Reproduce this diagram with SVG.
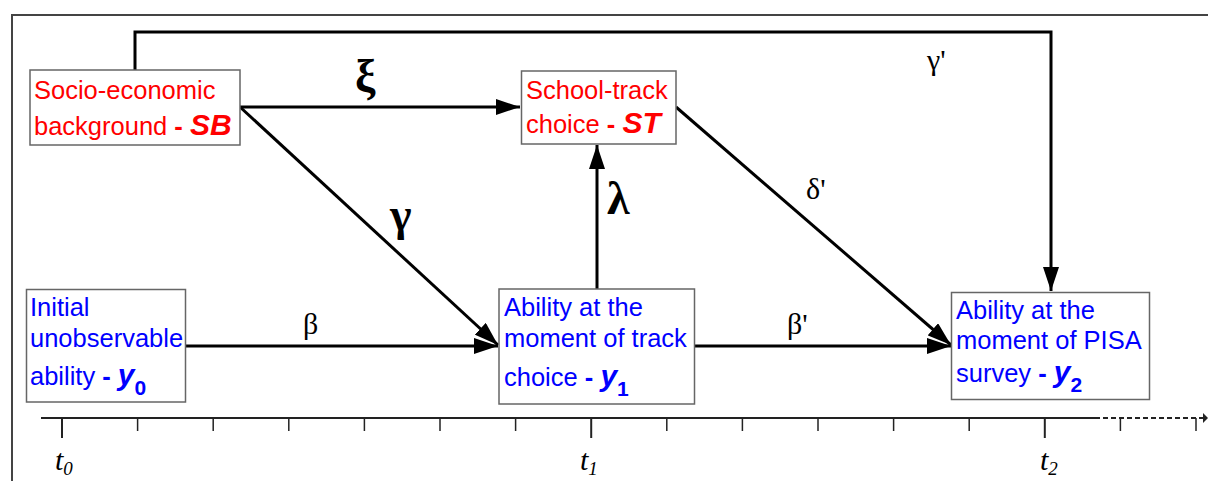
<svg xmlns="http://www.w3.org/2000/svg" width="1208" height="481" viewBox="0 0 1208 481">
<style>
.box{fill:#fff;stroke:#666;stroke-width:1.5}
.red{fill:#ff0000;font-family:"Liberation Sans",Arial,sans-serif;font-size:25.5px}
.blue{fill:#0000ff;font-family:"Liberation Sans",Arial,sans-serif;font-size:25.5px}
.b{font-weight:bold}
.bi{font-weight:bold;font-style:italic;font-size:30px}
.sub{font-weight:bold;font-size:21px}
.conn{fill:none;stroke:#000;stroke-width:3}
.gr{font-family:"Liberation Serif","Times New Roman",serif;font-size:30px;fill:#000}
.grb{font-family:"Liberation Serif","Times New Roman",serif;font-size:46px;font-weight:bold;fill:#000}
.tl{font-family:"Liberation Serif","Times New Roman",serif;font-style:italic;font-size:30px;fill:#000}
.tick{stroke:#222;stroke-width:1.5}
.ltick{stroke:#222;stroke-width:2}
</style>
<defs>
<marker id="ah" markerUnits="userSpaceOnUse" markerWidth="25" markerHeight="16" refX="24" refY="8" orient="auto">
<path d="M0,0 L24,8 L0,16 z" fill="#000"/>
</marker>
</defs>
<rect width="1208" height="481" fill="#fff"/>
<!-- frame -->
<path d="M12,481 V15 H1208" fill="none" stroke="#444" stroke-width="2"/>

<g id="connectors">
<path class="conn" d="M135,70 V32 H1051 V291" marker-end="url(#ah)"/>
<line class="conn" x1="240" y1="107" x2="520" y2="107" marker-end="url(#ah)"/>
<line class="conn" x1="240" y1="107" x2="498" y2="345" marker-end="url(#ah)"/>
<line class="conn" x1="185" y1="346" x2="498" y2="346" marker-end="url(#ah)"/>
<line class="conn" x1="597" y1="289" x2="597" y2="145" marker-end="url(#ah)"/>
<line class="conn" x1="695" y1="346" x2="951" y2="346" marker-end="url(#ah)"/>
<line class="conn" x1="676" y1="107" x2="951" y2="345" marker-end="url(#ah)"/>
</g>

<g id="labels">
<text class="grb" x="355" y="92">ξ</text>
<text class="grb" x="390" y="230">γ</text>
<text class="grb" x="607" y="214">λ</text>
<text class="gr" x="303" y="334">β</text>
<text class="gr" x="787" y="334">β'</text>
<text class="gr" x="806" y="199">δ'</text>
<text class="gr" x="927" y="70">γ'</text>
</g>

<g id="node-sb">
<rect class="box" x="30" y="70" width="210" height="75"/>
<text class="red" x="34" y="99">Socio-economic</text>
<text class="red" x="34" y="135">background <tspan class="b">- </tspan><tspan class="bi">SB</tspan></text>
</g>

<g id="node-st">
<rect class="box" x="521.5" y="71" width="154.5" height="73"/>
<text class="red" x="526" y="99">School-track</text>
<text class="red" x="526" y="133">choice <tspan class="b">- </tspan><tspan class="bi">ST</tspan></text>
</g>

<g id="node-y0">
<rect class="box" x="26.5" y="289.5" width="159" height="112.5"/>
<text class="blue" x="30" y="316">Initial</text>
<text class="blue" x="30" y="347">unobservable</text>
<text class="blue" x="30" y="385">ability <tspan class="b">- </tspan><tspan class="bi">y</tspan><tspan class="sub" dy="10">0</tspan></text>
</g>

<g id="node-y1">
<rect class="box" x="499" y="289" width="195.5" height="115"/>
<text class="blue" x="504" y="316">Ability at the</text>
<text class="blue" x="504" y="347">moment of track</text>
<text class="blue" x="504" y="386">choice <tspan class="b">- </tspan><tspan class="bi">y</tspan><tspan class="sub" dy="10">1</tspan></text>
</g>

<g id="node-y2">
<rect class="box" x="951.5" y="292.5" width="198" height="107"/>
<text class="blue" x="956" y="319">Ability at the</text>
<text class="blue" x="956" y="349">moment of PISA</text>
<text class="blue" x="956" y="382">survey <tspan class="b">- </tspan><tspan class="bi">y</tspan><tspan class="sub" dy="10">2</tspan></text>
</g>

<g id="axis">
<line x1="41" y1="418" x2="1095" y2="418" stroke="#222" stroke-width="2"/>
<line x1="1095" y1="418" x2="1204" y2="418" stroke="#222" stroke-width="2" stroke-dasharray="5,3"/>
<path d="M1203,413 L1208,418 L1203,423 z" fill="#222"/>
<line class="ltick" x1="62" y1="418" x2="62" y2="438"/>
<line class="tick" x1="137.6" y1="418" x2="137.6" y2="431"/>
<line class="tick" x1="213.2" y1="418" x2="213.2" y2="431"/>
<line class="tick" x1="288.8" y1="418" x2="288.8" y2="431"/>
<line class="tick" x1="364.4" y1="418" x2="364.4" y2="431"/>
<line class="tick" x1="440" y1="418" x2="440" y2="431"/>
<line class="tick" x1="515.6" y1="418" x2="515.6" y2="431"/>
<line class="ltick" x1="591.2" y1="418" x2="591.2" y2="438"/>
<line class="tick" x1="666.8" y1="418" x2="666.8" y2="431"/>
<line class="tick" x1="742.4" y1="418" x2="742.4" y2="431"/>
<line class="tick" x1="818" y1="418" x2="818" y2="431"/>
<line class="tick" x1="893.6" y1="418" x2="893.6" y2="431"/>
<line class="tick" x1="969.2" y1="418" x2="969.2" y2="431"/>
<line class="ltick" x1="1044.8" y1="418" x2="1044.8" y2="438"/>
<line class="tick" x1="1120.4" y1="418" x2="1120.4" y2="431"/>
<line class="tick" x1="1196" y1="418" x2="1196" y2="431"/>
<text class="tl" x="55" y="470">t<tspan font-size="19" dy="5">0</tspan></text>
<text class="tl" x="580" y="470">t<tspan font-size="19" dy="5">1</tspan></text>
<text class="tl" x="1040" y="470">t<tspan font-size="19" dy="5">2</tspan></text>
</g>
</svg>
